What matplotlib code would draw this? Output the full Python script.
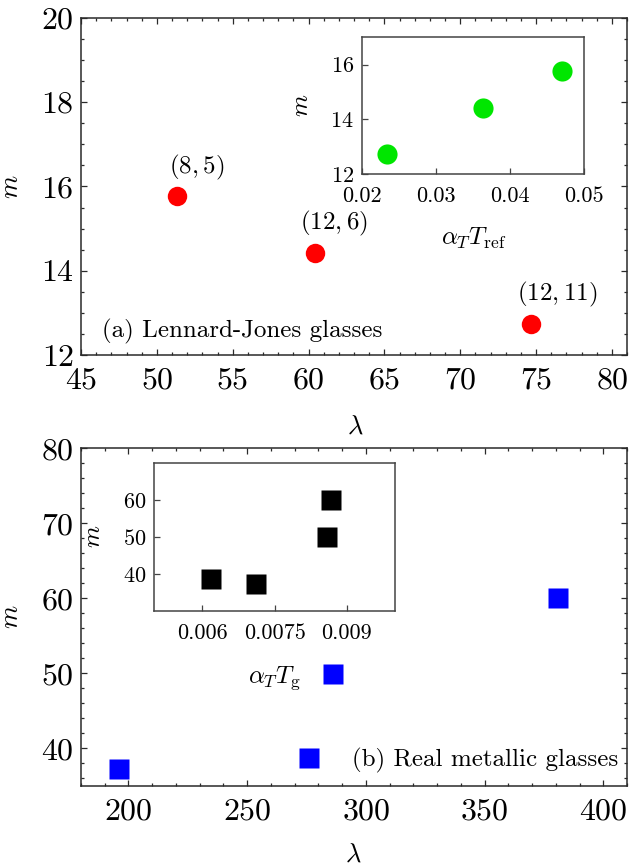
import matplotlib
matplotlib.use("Agg")
import matplotlib.pyplot as plt
from matplotlib.ticker import MultipleLocator, FixedLocator

plt.rcParams['font.family'] = ['cmr10', 'DejaVu Serif']
plt.rcParams['mathtext.fontset'] = 'cm'
plt.rcParams['axes.formatter.use_mathtext'] = True
plt.rcParams['axes.unicode_minus'] = False

# ---- data: (a) Lennard-Jones glasses ----
lj_lambda = [51.3, 60.4, 74.7]
lj_m = [15.78, 14.41, 12.74]
lj_labels = [r'$(8,5)$', r'$(12,6)$', r'$(12,11)$']
lj_alpha_Tref = [0.0470, 0.0363, 0.0234]

# ---- data: (b) Real metallic glasses ----
mg_lambda = [196.1, 276.2, 286.3, 380.8]
mg_m = [37.2, 38.7, 49.9, 60.0]
mg_alpha_Tg = [0.00712, 0.00617, 0.00858, 0.00867]

top_xticks = [45, 50, 55, 60, 65, 70, 75, 80]
top_yticks = [12, 14, 16, 18, 20]
bot_xticks = [200, 250, 300, 350, 400]
bot_yticks = [40, 50, 60, 70, 80]
in1_xticks = [0.02, 0.03, 0.04, 0.05]
in1_xticklabels = ['0.02', '0.03', '0.04', '0.05']
in1_yticks = [12, 14, 16]
in2_xticks = [0.006, 0.0075, 0.009]
in2_xticklabels = ['0.006', '0.0075', '0.009']
in2_yticks = [40, 50, 60]

W, H = 629, 865
fig = plt.figure(figsize=(W / 100, H / 100), dpi=100)

def frac(l, t, r, b):
    return [l / W, (H - b) / H, (r - l) / W, (b - t) / H]

spine_c = '#2a2a2a'

def style_main(ax):
    for s in ax.spines.values():
        s.set_color(spine_c)
        s.set_linewidth(1.1)
    ax.tick_params(which='both', direction='in', top=True, right=True,
                   color=spine_c, width=0.9)
    ax.tick_params(which='major', length=4.5, labelsize=23)
    ax.tick_params(axis='x', which='major', pad=9)
    ax.tick_params(axis='y', which='major', pad=5)
    ax.tick_params(which='minor', length=2.5)

def style_inset(ax):
    for s in ax.spines.values():
        s.set_color('#444444')
        s.set_linewidth(1.1)
    ax.tick_params(which='both', direction='in', top=False, right=False,
                   color='#444444', width=0.9, length=4, labelsize=16, pad=6)
    ax.tick_params(axis='x', pad=9)
    ax.minorticks_off()

# ---------- top panel ----------
ax1 = fig.add_axes(frac(81, 18, 627, 355))
ax1.plot(lj_lambda, lj_m, 'o', color='#ff0000', ms=14, mec='none')
offsets = [(20, 14), (19, 15), (26, 15)]
for x, y, lab, off in zip(lj_lambda, lj_m, lj_labels, offsets):
    ax1.annotate(lab, (x, y), xytext=off, textcoords='offset pixels',
                 ha='center', va='bottom', fontsize=18)
ax1.set_xlim(45, 81)
ax1.set_ylim(12, 20)
ax1.xaxis.set_major_locator(FixedLocator(top_xticks))
ax1.yaxis.set_major_locator(FixedLocator(top_yticks))
ax1.xaxis.set_minor_locator(MultipleLocator(1))
ax1.yaxis.set_minor_locator(MultipleLocator(0.5))
style_main(ax1)
ax1.set_xlabel(r'$\lambda$', fontsize=19)
ax1.set_ylabel(r'$m$', fontsize=19)
ax1.xaxis.set_label_coords(0.502, -0.178)
ax1.yaxis.set_label_coords(-0.106, 0.5)
ax1.text(0.038, 0.053, '(a) Lennard-Jones glasses', transform=ax1.transAxes,
         fontsize=18, ha='left', va='baseline')

in1 = fig.add_axes(frac(362.3, 37.3, 584.3, 174))
in1.plot(lj_alpha_Tref, lj_m, 'o', color='#00e600', ms=14.5, mec='none')
in1.set_xlim(0.02, 0.05)
in1.set_ylim(12, 17)
in1.xaxis.set_major_locator(FixedLocator(in1_xticks))
in1.set_xticklabels(in1_xticklabels)
in1.yaxis.set_major_locator(FixedLocator(in1_yticks))
style_inset(in1)
in1.set_xlabel(r'$\alpha_T T_{\rm ref}$', fontsize=18)
in1.set_ylabel(r'$m$', fontsize=18)
in1.xaxis.set_label_coords(0.5, -0.375)
in1.yaxis.set_label_coords(-0.222, 0.5)

# ---------- bottom panel ----------
ax2 = fig.add_axes(frac(81, 448.3, 627, 786))
ax2.plot(mg_lambda, mg_m, 's', color='#0000ff', ms=15, mec='none')
ax2.set_xlim(180, 410)
ax2.set_ylim(35, 80)
ax2.xaxis.set_major_locator(FixedLocator(bot_xticks))
ax2.yaxis.set_major_locator(FixedLocator(bot_yticks))
ax2.xaxis.set_minor_locator(MultipleLocator(10))
ax2.yaxis.set_minor_locator(MultipleLocator(2))
style_main(ax2)
ax2.set_xlabel(r'$\lambda$', fontsize=19)
ax2.set_ylabel(r'$m$', fontsize=19)
ax2.xaxis.set_label_coords(0.498, -0.168)
ax2.yaxis.set_label_coords(-0.106, 0.5)
ax2.text(0.4955, 0.057, '(b) Real metallic glasses', transform=ax2.transAxes,
         fontsize=18, ha='left', va='baseline')

in2 = fig.add_axes(frac(154.3, 462.7, 395, 611))
in2.plot(mg_alpha_Tg, mg_m, 's', color='black', ms=15, mec='none')
in2.set_xlim(0.005, 0.010)
in2.set_ylim(30, 70)
in2.xaxis.set_major_locator(FixedLocator(in2_xticks))
in2.set_xticklabels(in2_xticklabels)
in2.yaxis.set_major_locator(FixedLocator(in2_yticks))
style_inset(in2)
in2.set_xlabel(r'$\alpha_T T_{\rm g}$', fontsize=18)
in2.set_ylabel(r'$m$', fontsize=18)
in2.xaxis.set_label_coords(0.5, -0.36)
in2.yaxis.set_label_coords(-0.205, 0.5)

fig.savefig('out.png', dpi=100)
